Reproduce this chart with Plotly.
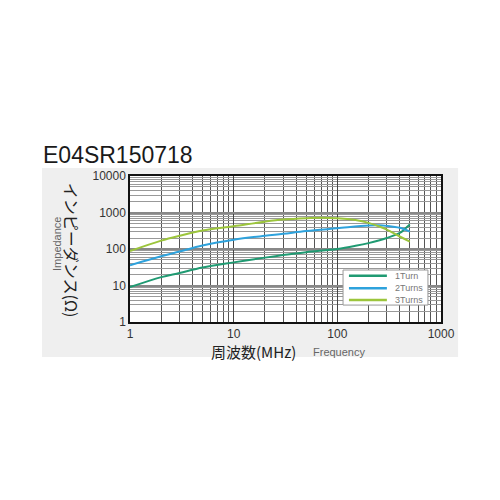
import plotly.graph_objects as go

freq_1turn = [1, 2, 3, 5, 10, 20, 30, 50, 100, 150, 200, 300, 400, 450, 500]
imp_1turn = [9, 17, 22, 31, 43, 58, 68, 82, 100, 122, 145, 200, 275, 360, 470]

freq_2turns = [1, 2, 3, 5, 10, 20, 30, 50, 100, 200, 250, 300, 400, 500]
imp_2turns = [36, 63, 85, 125, 180, 230, 260, 310, 370, 440, 445, 430, 380, 300]

freq_3turns = [1, 2, 3, 5, 10, 20, 30, 50, 70, 100, 150, 200, 250, 300, 400, 500]
imp_3turns = [88, 170, 230, 320, 420, 560, 640, 700, 720, 700, 620, 520, 420, 340, 220, 160]

series_names = ["1Turn", "2Turns", "3Turns"]
series_colors = ["#1f9a72", "#2ea2dc", "#9cc53c"]

x_ticks = [1, 10, 100, 1000]
y_ticks = [1, 10, 100, 1000, 10000]

x_minor = [m * d for d in [1, 10, 100] for m in range(2, 10)]
y_minor = [m * d for d in [1, 10, 100, 1000] for m in range(2, 10)]

fig = go.Figure()
for name, color, xs, ys in zip(series_names, series_colors,
                               [freq_1turn, freq_2turns, freq_3turns],
                               [imp_1turn, imp_2turns, imp_3turns]):
    fig.add_trace(go.Scatter(x=xs, y=ys, mode="lines", name=name,
                             line=dict(color=color, width=2, shape="spline")))

shapes = [
    dict(type="rect", xref="paper", yref="paper", x0=-0.283, x1=1.055,
         y0=-0.24, y1=1.055, fillcolor="#efefef", line=dict(width=0),
         layer="below"),
    dict(type="rect", xref="paper", yref="paper", x0=0, x1=1,
         y0=0, y1=1, fillcolor="white", line=dict(width=0),
         layer="below"),
    # legend box
    dict(type="rect", xref="paper", yref="paper", x0=0.685, x1=0.958,
         y0=0.116, y1=0.356, fillcolor="white",
         line=dict(color="#999", width=1), layer="above"),
]
annotations = [
    dict(text="E04SR150718", xref="paper", yref="paper", x=-0.285, y=1.144,
         xanchor="left", yanchor="middle", showarrow=False,
         font=dict(size=23, color="#1a1a1a")),
    dict(text="インピーダンス(Ω)", xref="paper", yref="paper", x=-0.186, y=0.493,
         textangle=90, showarrow=False, xanchor="center", yanchor="middle",
         font=dict(size=16, color="#222", family="Noto Sans CJK JP")),
    dict(text="Impedance", xref="paper", yref="paper", x=-0.235, y=0.534,
         textangle=-90, showarrow=False, xanchor="center", yanchor="middle",
         font=dict(size=11, color="#666")),
    dict(text="周波数(MHz)", xref="paper", yref="paper", x=0.398, y=-0.2,
         showarrow=False, xanchor="center", yanchor="middle",
         font=dict(size=15, color="#222", family="Noto Sans CJK JP")),
    dict(text="Frequency", xref="paper", yref="paper", x=0.673, y=-0.205,
         showarrow=False, xanchor="center", yanchor="middle",
         font=dict(size=11, color="#666")),
]
legend_rows = [0.317, 0.231, 0.151]
for name, color, yrow in zip(series_names, series_colors, legend_rows):
    shapes.append(dict(type="line", xref="paper", yref="paper", x0=0.704, x1=0.826,
                       y0=yrow, y1=yrow, line=dict(color=color, width=2.5),
                       layer="above"))
    annotations.append(dict(text=name, xref="paper", yref="paper", x=0.846, y=yrow,
                            xanchor="left", yanchor="middle", showarrow=False,
                            font=dict(size=9, color="#777")))

fig.update_layout(
    width=500, height=500,
    margin=dict(l=122, r=67, t=168, b=186),
    paper_bgcolor="white",
    plot_bgcolor="white",
    font=dict(family="Liberation Sans, Arial, sans-serif", color="#333"),
    showlegend=False,
    shapes=shapes,
    annotations=annotations,
)

fig.update_xaxes(type="log", range=[0, 3], tickvals=x_ticks,
                 ticktext=[str(v) for v in x_ticks],
                 tickfont=dict(size=12, color="#333"),
                 showgrid=True, gridcolor="#444", gridwidth=1,
                 minor=dict(tickvals=x_minor, showgrid=True, gridcolor="#555",
                            gridwidth=1, ticks=""),
                 showline=True, linecolor="#111", linewidth=1.5, mirror=True,
                 ticks="", zeroline=False)
fig.update_yaxes(type="log", range=[0, 4], tickvals=y_ticks,
                 ticktext=[str(v) for v in y_ticks],
                 tickfont=dict(size=12, color="#333"),
                 showgrid=True, gridcolor="#888", gridwidth=2,
                 minor=dict(tickvals=y_minor, showgrid=True, gridcolor="#999",
                            gridwidth=1, ticks=""),
                 showline=True, linecolor="#111", linewidth=1.5, mirror=True,
                 ticks="", zeroline=False)

fig.write_html("out.html")
